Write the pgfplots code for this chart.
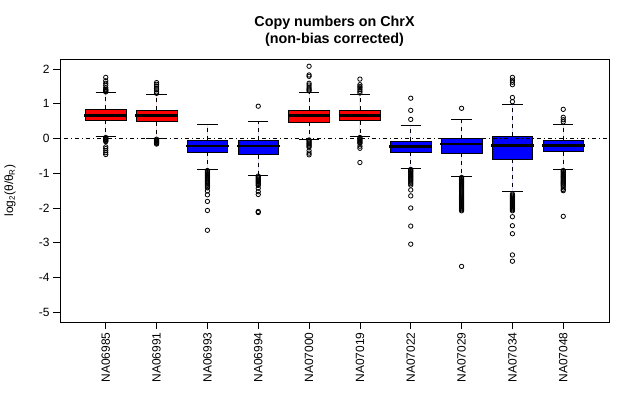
\documentclass[border=0pt]{standalone}
\usepackage{pgfplots}
\pgfplotsset{compat=1.18}
\usepgfplotslibrary{statistics}
\usepackage{fontspec}
\setmainfont{Liberation Sans}
\pgfplotsset{
  /pgfplots/boxplot/draw/whisker/.code 2 args={
    \draw[dash pattern=on 4bp off 4bp] (boxplot cs:#1) -- (boxplot cs:#2);
    \draw[solid] (boxplot whisker cs:#2,0) -- (boxplot whisker cs:#2,1);
  },
  redbox/.style={draw=black, line width=0.8bp, fill=red},
  bluebox/.style={draw=black, line width=0.8bp, fill=blue},
}
\begin{document}
\begin{tikzpicture}
\useasboundingbox (-60bp,-73bp) rectangle (580bp,322bp);
\begin{axis}[
  at={(0,0)}, anchor=south west,
  scale only axis, width=549bp, height=262.7bp,
  xmin=0.1, xmax=10.9, ymin=-5.28, ymax=2.28,
  xtick={1,...,10},
  xticklabels={NA06985,NA06991,NA06993,NA06994,NA07000,NA07019,NA07022,NA07029,NA07034,NA07048},
  ytick={-5,-4,...,2},
  xtick pos=left, ytick pos=left,
  tick align=outside,
  major tick length=7bp,
  every tick/.style={black, line width=0.8bp},
  axis line style={line width=0.8bp},
  /pgf/number format/assume math mode=true,
  tick label style={font=\fontsize{12}{14}\selectfont},
  xticklabel style={rotate=90, anchor=east},
  yticklabel style={anchor=east},
  title={Copy numbers on ChrX\\(non-bias corrected)},
  every axis title/.style={at={(axis description cs:0.5,1)}, anchor=south, align=center, inner sep=0pt, yshift=13bp, font=\bfseries\fontsize{14.4}{16.5}\selectfont},
  ylabel={log\textsubscript{2}(θ/θ\textsubscript{R})},
  every axis y label/.style={at={(axis description cs:-0.091,0.5)}, rotate=90, anchor=center, font=\fontsize{12}{14}\selectfont},
  boxplot/draw direction=y,
  boxplot/box extend=0.8,
  boxplot/whisker extend=0.4,
  boxplot/every median/.style={line width=2.6bp, shorten <=-1bp, shorten >=-1bp},
]
\addplot[redbox, boxplot prepared={draw position=1, lower whisker=0.06, lower quartile=0.52, median=0.67, upper quartile=0.84, upper whisker=1.33}] coordinates {};
\addplot[redbox, boxplot prepared={draw position=2, lower whisker=0.00, lower quartile=0.48, median=0.66, upper quartile=0.81, upper whisker=1.27}] coordinates {};
\addplot[bluebox, boxplot prepared={draw position=3, lower whisker=-0.89, lower quartile=-0.40, median=-0.22, upper quartile=-0.05, upper whisker=0.41}] coordinates {};
\addplot[bluebox, boxplot prepared={draw position=4, lower whisker=-1.06, lower quartile=-0.46, median=-0.22, upper quartile=-0.05, upper whisker=0.49}] coordinates {};
\addplot[redbox, boxplot prepared={draw position=5, lower whisker=-0.02, lower quartile=0.47, median=0.66, upper quartile=0.81, upper whisker=1.33}] coordinates {};
\addplot[redbox, boxplot prepared={draw position=6, lower whisker=0.06, lower quartile=0.51, median=0.67, upper quartile=0.81, upper whisker=1.27}] coordinates {};
\addplot[bluebox, boxplot prepared={draw position=7, lower whisker=-0.86, lower quartile=-0.40, median=-0.23, upper quartile=-0.07, upper whisker=0.38}] coordinates {};
\addplot[bluebox, boxplot prepared={draw position=8, lower whisker=-1.09, lower quartile=-0.43, median=-0.16, upper quartile=0.00, upper whisker=0.55}] coordinates {};
\addplot[bluebox, boxplot prepared={draw position=9, lower whisker=-1.52, lower quartile=-0.60, median=-0.20, upper quartile=0.06, upper whisker=0.99}] coordinates {};
\addplot[bluebox, boxplot prepared={draw position=10, lower whisker=-0.89, lower quartile=-0.38, median=-0.20, upper quartile=-0.05, upper whisker=0.41}] coordinates {};
% outliers
\addplot[only marks, mark=o, mark size=2.2bp, black, mark options={line width=0.8bp}] coordinates {
(1,1.76) (1,1.66) (1,1.59) (1,1.53) (1,1.46) (1,1.42) (1,1.40) (1,1.38) (1,1.36) (1,1.34)
(1,0.03) (1,0.01) (1,-0.01) (1,-0.03) (1,-0.05) (1,-0.07) (1,-0.09) (1,-0.24) (1,-0.29) (1,-0.35) (1,-0.41) (1,-0.46)
(2,1.61) (2,1.56) (2,1.51) (2,1.45) (2,1.40) (2,1.34) (2,1.30)
(2,-0.02) (2,-0.04) (2,-0.06) (2,-0.08) (2,-0.10) (2,-0.12) (2,-0.14) (2,-0.16)
(3,-0.92) (3,-0.95) (3,-0.98) (3,-1.01) (3,-1.04) (3,-1.07) (3,-1.10) (3,-1.13) (3,-1.16) (3,-1.19) (3,-1.22) (3,-1.25) (3,-1.28) (3,-1.31) (3,-1.35) (3,-1.39) (3,-1.42) (3,-1.51) (3,-1.62) (3,-1.81) (3,-2.07) (3,-2.64)
(4,0.93)
(4,-1.08) (4,-1.11) (4,-1.14) (4,-1.17) (4,-1.20) (4,-1.23) (4,-1.26) (4,-1.29) (4,-1.32) (4,-1.35) (4,-1.43) (4,-1.53) (4,-1.61) (4,-2.10) (4,-2.13)
(5,2.08) (5,1.83) (5,1.79) (5,1.59) (5,1.54) (5,1.48) (5,1.43) (5,1.40) (5,1.37)
(5,-0.04) (5,-0.07) (5,-0.10) (5,-0.13) (5,-0.16) (5,-0.19) (5,-0.22) (5,-0.25) (5,-0.35) (5,-0.42) (5,-0.47)
(6,1.71) (6,1.55) (6,1.50) (6,1.46) (6,1.41) (6,1.36) (6,1.31)
(6,0.03) (6,0.00) (6,-0.03) (6,-0.06) (6,-0.09) (6,-0.12) (6,-0.14) (6,-0.22) (6,-0.28) (6,-0.69)
(7,1.16) (7,0.81) (7,0.55)
(7,-0.89) (7,-0.92) (7,-0.95) (7,-0.98) (7,-1.01) (7,-1.04) (7,-1.07) (7,-1.10) (7,-1.13) (7,-1.16) (7,-1.19) (7,-1.22) (7,-1.26) (7,-1.30) (7,-1.34) (7,-1.48) (7,-1.65) (7,-2.00) (7,-2.52) (7,-3.04)
(8,0.87)
(8,-1.12) (8,-1.15) (8,-1.18) (8,-1.21) (8,-1.24) (8,-1.27) (8,-1.30) (8,-1.33) (8,-1.36) (8,-1.39) (8,-1.42) (8,-1.45) (8,-1.48) (8,-1.51) (8,-1.54) (8,-1.57) (8,-1.60) (8,-1.63) (8,-1.66) (8,-1.69) (8,-1.72) (8,-1.75) (8,-1.78) (8,-1.81) (8,-1.84) (8,-1.87) (8,-1.90) (8,-1.93) (8,-1.96) (8,-1.99) (8,-2.02) (8,-2.05) (8,-2.08) (8,-3.68)
(9,1.76) (9,1.68) (9,1.62) (9,1.55) (9,1.18) (9,1.06)
(9,-1.60) (9,-1.63) (9,-1.66) (9,-1.69) (9,-1.72) (9,-1.75) (9,-1.78) (9,-1.81) (9,-1.84) (9,-1.87) (9,-1.90) (9,-1.93) (9,-1.96) (9,-1.99) (9,-2.02) (9,-2.05) (9,-2.08) (9,-2.25) (9,-2.51) (9,-2.74) (9,-3.35) (9,-3.53)
(10,0.84) (10,0.61) (10,0.54) (10,0.48)
(10,-0.92) (10,-0.95) (10,-0.98) (10,-1.01) (10,-1.04) (10,-1.07) (10,-1.10) (10,-1.13) (10,-1.16) (10,-1.19) (10,-1.22) (10,-1.25) (10,-1.28) (10,-1.31) (10,-1.34) (10,-1.37) (10,-1.42) (10,-1.47) (10,-1.50) (10,-2.24)
};
\addplot[black, line width=0.8bp, dash pattern=on 1bp off 3bp on 4bp off 3bp] coordinates {(0.1,0) (10.9,0)};
\end{axis}
\end{tikzpicture}
\end{document}
